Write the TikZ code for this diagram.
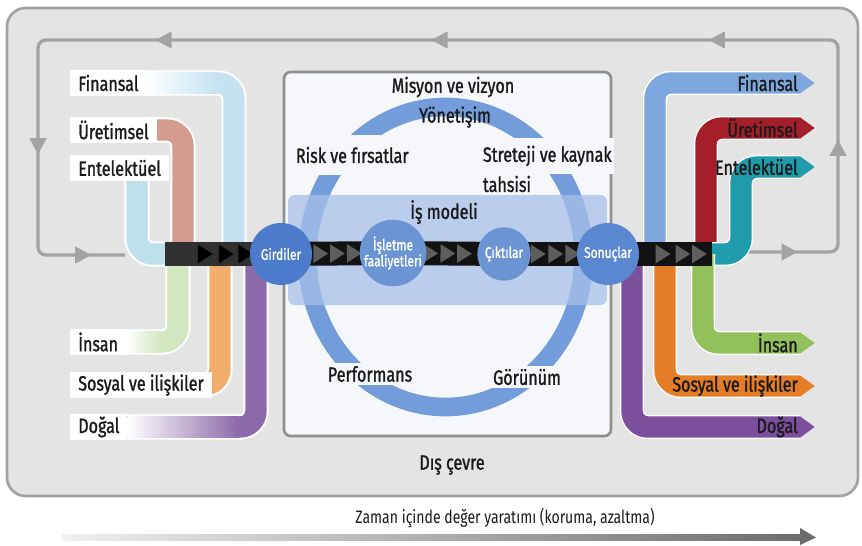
\documentclass[tikz,border=0pt]{standalone}
\usepackage{fontspec}
\setmainfont{Fira Sans}[FakeStretch=0.78, FakeBold=1.2]
\newfontfamily\timefont{Fira Sans}[FakeStretch=0.78]
\usetikzlibrary{arrows.meta,decorations.markings}

\definecolor{outerbg}{HTML}{E4E4E4}
\definecolor{outerline}{HTML}{A2A2A2}
\definecolor{loopgray}{HTML}{A3A3A3}
\definecolor{innerline}{HTML}{8F8F8F}
\definecolor{boxbg}{HTML}{F5F7FA}
\definecolor{ringc}{HTML}{739CDA}
\definecolor{modelc}{HTML}{A8BFE8}
\definecolor{girc}{HTML}{4B7BCA}
\definecolor{islc}{HTML}{6B94D5}
\definecolor{sonc}{HTML}{5A88D0}
\definecolor{chainc}{HTML}{121212}
\definecolor{chainl}{HTML}{303030}
\definecolor{chaintri}{HTML}{5E5E5E}
\definecolor{txt}{HTML}{1A1A1A}
% capitals: left side pale, right side full
\definecolor{finL}{HTML}{C5E2F3}
\definecolor{uretL}{HTML}{D49C8E}
\definecolor{entL}{HTML}{BEE0EC}
\definecolor{insL}{HTML}{D2E6C0}
\definecolor{sosL}{HTML}{EFAE6C}
\definecolor{dogL}{HTML}{8C69AA}
\definecolor{finR}{HTML}{7EA7DE}
\definecolor{uretR}{HTML}{A51F2B}
\definecolor{entR}{HTML}{1F9BAB}
\definecolor{insR}{HTML}{92C05B}
\definecolor{sosR}{HTML}{E47D25}
\definecolor{dogR}{HTML}{7B4F9C}

\newcommand{\capfont}{\fontsize{15.5}{17}\selectfont}
\newcommand{\procfont}{\fontsize{11.5}{12}\selectfont}
\newcommand{\looptri}{\fill[loopgray, sharp corners] (-5pt,-6.5pt) -- (7pt,0) -- (-5pt,6.5pt) -- cycle;}

\pgfdeclarelayer{back}
\pgfdeclarelayer{flow}
\pgfsetlayers{back,flow,main}

\tikzset{
  lcap/.style={anchor=west, fill=white, text=txt, font=\capfont, inner xsep=6pt, inner ysep=0pt, minimum height=20pt},
  rcap/.style={anchor=east, text=txt, font=\capfont, inner sep=0pt},
  itext/.style={text=txt, font=\capfont, inner sep=2pt},
  ifill/.style={fill=boxbg},
  proc/.style={circle, inner sep=0pt, text=white, font=\procfont, align=center},
  lband/.style={line width=16pt, rounded corners=12pt, preaction={draw=white, line width=19pt}},
  rband/.style={line width=16pt, rounded corners=12pt, preaction={draw=white, line width=18pt},
    postaction={decorate}, decoration={markings, mark=at position 0.9999 with {\fill[sharp corners] (0,-8pt) -- (11pt,0) -- (0,8pt) -- cycle;}}},
  chainstrip/.style n args={5}{line width=18pt, draw=#5, postaction={decorate},
    decoration={markings,
      mark=at position #1 with {\fill[#4] (-11pt,-7pt) -- (0,0) -- (-11pt,7pt) -- cycle;},
      mark=at position #2 with {\fill[#4] (-11pt,-7pt) -- (0,0) -- (-11pt,7pt) -- cycle;},
      mark=at position #3 with {\fill[#4] (-11pt,-7pt) -- (0,0) -- (-11pt,7pt) -- cycle;}}},
  loopline/.style={draw=loopgray, line width=2.5pt, rounded corners=6pt, postaction={decorate},
    decoration={markings,
      mark=at position 0.031 with {\looptri}, mark=at position 0.138 with {\looptri},
      mark=at position 0.300 with {\looptri}, mark=at position 0.499 with {\looptri},
      mark=at position 0.697 with {\looptri}, mark=at position 0.861 with {\looptri},
      mark=at position 0.969 with {\looptri}}},
}

\begin{document}
\begin{tikzpicture}[x=0.75pt, y=-0.75pt]
\useasboundingbox (0,0) rectangle (862,545);

% process circles
\node[proc, fill=girc, minimum size=46.5pt] (gir) at (281,254) {Girdiler};
\node[proc, fill=islc, minimum size=43.5pt] (isl) at (393,253) {İşletme\\faaliyetleri};
\node[proc, fill=islc, minimum size=40pt] (cik) at (504,254) {Çıktılar};
\node[proc, fill=sonc, minimum size=46.5pt] (son) at (608,254) {Sonuçlar};

% capitals in
\node[lcap] (lfin) at (70,83) {Finansal};
\node[lcap] (luret) at (70,130) {Üretimsel};
\node[lcap] (lent) at (70,168) {Entelektüel};
\node[lcap] (lins) at (70,342) {İnsan};
\node[lcap] (lsos) at (70,385) {Sosyal ve ilişkiler};
\node[lcap] (ldog) at (70,427) {Doğal};

% capitals out
\node[rcap] (rfin) at (798,83) {Finansal};
\node[rcap] (ruret) at (798,128) {Üretimsel};
\node[rcap] (rent) at (798,167) {Entelektüel};
\node[rcap] (rins) at (798,343) {İnsan};
\node[rcap] (rsos) at (798,386) {Sosyal ve ilişkiler};
\node[rcap] (rdog) at (798,427) {Doğal};

% organisation
\node[itext] (mis) at (453,87) {Misyon ve vizyon};
\node[itext] (yon) at (455,117) {Yönetişim};
\node[itext, ifill, anchor=west, minimum height=30pt] (risk) at (293,155) {Risk ve fırsatlar};
\node[itext, ifill, anchor=west, minimum height=27pt] (str) at (480,156) {Streteji ve kaynak};
\node[itext, ifill, anchor=west] (tah) at (480,184) {tahsisi};
\node[itext] (ism) at (444,212) {İş modeli};
\node[itext, ifill] (perf) at (370,374) {Performans};
\node[itext, ifill] (gor) at (527,377) {Görünüm};
\node[itext] (dis) at (452,465) {Dış çevre};
\node[itext, font=\timefont\fontsize{13.5}{15}\selectfont] (zam) at (505,518) {Zaman içinde değer yaratımı (koruma, azaltma)};

% end points
\coordinate (cl) at (165,254);
\coordinate (cr) at (712,254);
\coordinate (fbl) at (125,255);
\coordinate (fbr) at (745,252);
\coordinate (ifin) at (234,254);
\coordinate (iuret) at (183,254);
\coordinate (ient) at (137,254);
\coordinate (iins) at (178,254);
\coordinate (isos) at (220,254);
\coordinate (idog) at (256,254);
\coordinate (ofin) at (655,254);
\coordinate (ouret) at (706,254);
\coordinate (oent) at (712,254);
\coordinate (oins) at (703,254);
\coordinate (osos) at (665,254);
\coordinate (odog) at (632,254);

\begin{pgfonlayer}{back}
\fill[white] (0,0) rectangle (862,545);
% outer environment
\draw[outerline, fill=outerbg, line width=2pt, rounded corners=14pt] (7,8) rectangle (858,496);
% feedback
\draw[loopline] (fbr) -- (838,252) -- (838,40) -- (38,40) -- (38,255) -- (fbl);
% organisation box
\draw[innerline, fill=boxbg, line width=2pt, rounded corners=5pt] (284,72) rectangle (611,436);
\draw[ringc, line width=14pt] (445.5,257) ellipse [x radius=138, y radius=150];
\fill[modelc, opacity=0.75, rounded corners=5pt] (288,195) rectangle (607,305);
% time line
\shade[left color=gray!12, right color=gray!85!black] (62,534.5) rectangle (802,540.5);
\fill[gray!85!black] (800,528) -- (816,537.5) -- (800,545) -- cycle;
\end{pgfonlayer}

\begin{pgfonlayer}{flow}
% in
\draw[lband, color=finL] (lfin.center) -| (ifin);
\draw[lband, color=uretL] (luret.center) -| (iuret);
\draw[lband, color=entL] (lent.center) -| (ient) -- (cl);
\draw[lband, color=insL] (lins.center) -| (iins);
\draw[lband, color=sosL] (lsos.center) -| (isos);
\draw[lband, color=dogL] (ldog.center) -| (idog);
\shade[left color=white, right color=finL] ([yshift=8pt]lfin.east) rectangle (217,93.67);
\shade[left color=white, right color=insL] ([yshift=8pt]lins.east) rectangle (161,352.67);
\shade[left color=white, right color=dogL] ([yshift=8pt]ldog.east) rectangle (239,437.67);
% out
\draw[rband, color=finR] (ofin) |- ([xshift=1.5pt]rfin.east);
\draw[rband, color=uretR] (ouret) |- ([xshift=1.5pt]ruret.east);
\draw[rband, color=entR] (oent) -- (741,254) |- ([xshift=1.5pt]rent.east);
\draw[rband, color=insR] (oins) |- ([xshift=1.5pt]rins.east);
\draw[rband, color=sosR] (osos) |- ([xshift=1.5pt]rsos.east);
\draw[rband, color=dogR] (odog) |- ([xshift=1.5pt]rdog.east);
% value chain
\draw[chainstrip={0.41}{0.59}{0.76}{black}{chainl}] (cl) -- (gir.center);
\draw[chainstrip={0.42}{0.57}{0.72}{chaintri}{chainc}] (gir.center) -- (isl.center);
\draw[chainstrip={0.405}{0.56}{0.71}{chaintri}{chainc}] (isl.center) -- (cik.center);
\draw[chainstrip={0.40}{0.567}{0.73}{chaintri}{chainc}] (cik.center) -- (son.center);
\draw[chainstrip={0.60}{0.79}{0.95}{chaintri}{chainc}] (son.center) -- (cr);
\end{pgfonlayer}

\end{tikzpicture}
\end{document}
